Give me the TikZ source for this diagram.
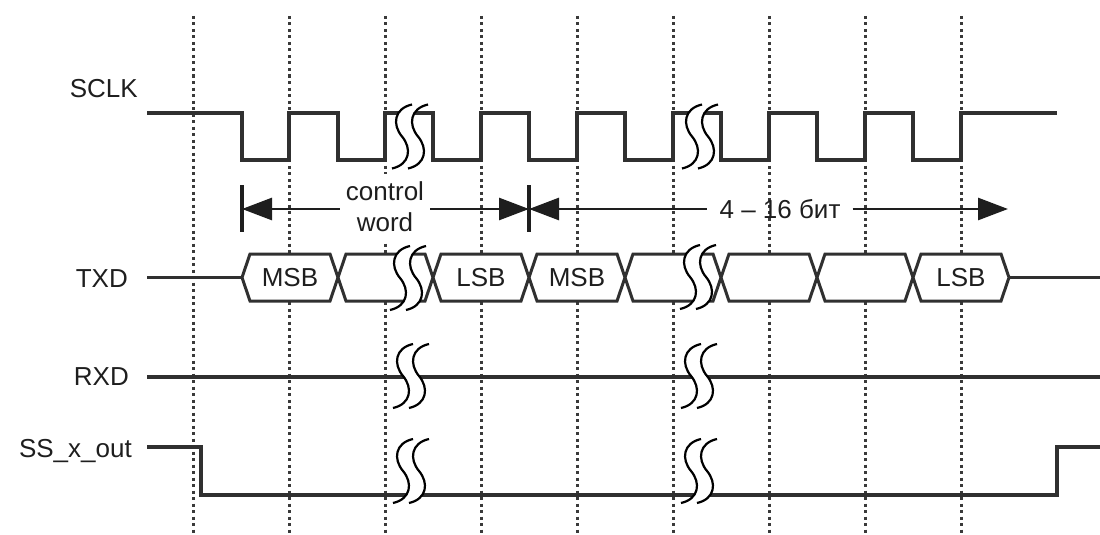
\documentclass[tikz,border=0pt]{standalone}
\usepackage{fontspec}
\setmainfont{Liberation Sans}
\usetikzlibrary{arrows.meta}
\definecolor{sig}{HTML}{303030}
\definecolor{gridc}{HTML}{3A3A3A}
\definecolor{txt}{HTML}{1E1E1E}
\begin{document}
\begin{tikzpicture}[x=1pt,y=-1pt,
  lbl/.style={font=\fontsize{26}{31}\selectfont, text=txt, inner sep=0pt},
  wave/.style={draw=sig, line width=3.2pt, line join=miter},
  gridline/.style={draw=gridc, line width=3pt, dash pattern=on 3pt off 3.5pt},
  dimline/.style={draw=txt, line width=2.8pt},
  tickline/.style={draw=txt, line width=3.2pt},
  bigtip/.tip={Triangle[length=30pt,width=22pt]},
  hexbox/.style={draw=sig, fill=white, line width=3pt, line join=miter},
  brkline/.style={draw=black, line width=2.2pt},
  brk/.pic={
    \fill[white] (2,-32) .. controls (-16,-28) and (-18,-12) .. (-8,0)
      .. controls (2,12) and (0,28) .. (-18,32) -- (-2,32)
      .. controls (16,28) and (18,12) .. (8,0)
      .. controls (-2,-12) and (0,-28) .. (18,-32) -- cycle;
    \draw[brkline] (2,-32) .. controls (-16,-28) and (-18,-12) .. (-8,0)
      .. controls (2,12) and (0,28) .. (-18,32);
    \draw[brkline] (18,-32) .. controls (0,-28) and (-2,-12) .. (8,0)
      .. controls (18,12) and (16,28) .. (-2,32);
  }
]
\useasboundingbox (0,0) rectangle (1100,535);

% dotted grid
\foreach \x in {193,289,...,961} { \draw[gridline] (\x,16) -- (\x,533); }

% dimension labels (the control word box hides the grid line behind it)
\node[lbl, fill=white, align=center, inner xsep=6pt, inner ysep=8pt] (cw) at (385,207) {control\\word};
\node[lbl, inner xsep=12pt] (nb) at (780,209) {4 – 16 бит};

% signal labels
\node[lbl, anchor=base east] (lsclk) at (138,97) {SCLK};
\node[lbl, anchor=base east] (ltxd) at (128,287) {TXD};
\node[lbl, anchor=base east] (lrxd) at (129,385) {RXD};
\node[lbl, anchor=base east] (lss) at (132,457) {SS\_x\_out};

% SCLK
\draw[wave] (147,113) -- (242,113) -- (242,160) -- (289,160) -- (289,113)
  -- (338,113) -- (338,160) -- (385,160) -- (385,113) -- (433,113) -- (433,160)
  -- (481,160) -- (481,113) -- (529,113) -- (529,160) -- (577,160) -- (577,113)
  -- (625,113) -- (625,160) -- (673,160) -- (673,113) -- (721,113) -- (721,160)
  -- (769,160) -- (769,113) -- (817,113) -- (817,160) -- (865,160) -- (865,113)
  -- (913,113) -- (913,160) -- (961,160) -- (961,113) -- (1057,113);

% TXD
\draw[wave] (147,277.5) -- (242,277.5);
\draw[wave] (1009,277.5) -- (1100,277.5);
\foreach \a/\b in {242/338,338/433,433/529,529/625,625/721,721/817,817/913,913/1009} {
  \draw[hexbox] (\a,277.5) -- (\a+8,254) -- (\b-8,254) -- (\b,277.5) -- (\b-8,301) -- (\a+8,301) -- cycle;
}
\node[lbl] (m1) at (290,278) {MSB};
\node[lbl] (l1) at (481,278) {LSB};
\node[lbl] (m2) at (577,278) {MSB};
\node[lbl] (l2) at (961,278) {LSB};

% RXD
\draw[wave] (147,377) -- (1100,377);

% SS_x_out
\draw[wave] (147,447) -- (201,447) -- (201,495) -- (1057,495) -- (1057,447) -- (1100,447);

% breaks
\pic at (410,136.5) {brk};
\pic at (408,278) {brk};
\pic at (411,376) {brk};
\pic at (411,471) {brk};
\pic at (700,136.5) {brk};
\pic at (698,277) {brk};
\pic at (699,376) {brk};
\pic at (699,471) {brk};

% dimension arrows
\coordinate (t1) at (242,209);
\coordinate (t2) at (529,209);
\coordinate (t3) at (1008,209);
\draw[tickline] (242,185) -- (242,232);
\draw[tickline] (529,185) -- (529,232);
\draw[dimline, {bigtip}-] (t1) -- (cw.west |- t1);
\draw[dimline, -{bigtip}] (cw.east |- t1) -- (t2);
\draw[dimline, {bigtip}-] (t2) -- (nb.west);
\draw[dimline, -{bigtip}] (nb.east) -- (t3);
\end{tikzpicture}
\end{document}
